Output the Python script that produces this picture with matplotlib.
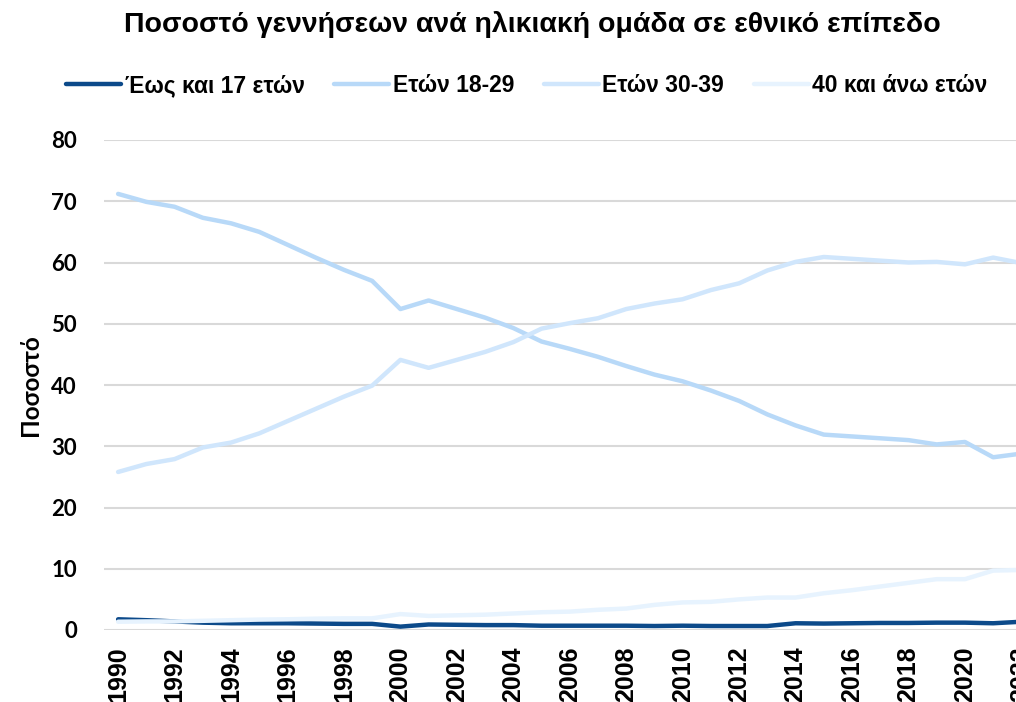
import matplotlib
matplotlib.use("Agg")
import matplotlib.pyplot as plt
from matplotlib import font_manager

years = list(range(1990, 2023))
under17 = [1.75, 1.6, 1.4, 1.2, 1.1, 1.1, 1.1, 1.05, 1.0, 1.0, 0.55, 0.9, 0.85, 0.8, 0.8,
           0.7, 0.7, 0.7, 0.7, 0.65, 0.7, 0.65, 0.65, 0.65, 1.1, 1.05, 1.1, 1.15, 1.15,
           1.2, 1.2, 1.1, 1.35]
age18_29 = [71.2, 69.9, 69.1, 67.3, 66.4, 65.0, 62.9, 60.8, 58.8, 57.0, 52.4, 53.8, 52.4,
            51.0, 49.3, 47.1, 45.9, 44.6, 43.1, 41.7, 40.6, 39.1, 37.4, 35.2, 33.4, 31.9,
            31.6, 31.3, 31.0, 30.3, 30.7, 28.2, 28.8]
age30_39 = [25.8, 27.1, 27.9, 29.8, 30.6, 32.1, 34.1, 36.1, 38.1, 39.9, 44.1, 42.8, 44.1,
            45.4, 47.0, 49.2, 50.1, 50.9, 52.4, 53.3, 54.0, 55.5, 56.6, 58.7, 60.1, 60.9,
            60.6, 60.3, 60.0, 60.1, 59.7, 60.8, 59.9]
age40plus = [1.35, 1.4, 1.4, 1.5, 1.6, 1.7, 1.75, 1.85, 1.9, 1.9, 2.6, 2.3, 2.4, 2.5, 2.7,
             2.9, 3.0, 3.3, 3.5, 4.1, 4.5, 4.6, 5.0, 5.3, 5.3, 6.0, 6.5, 7.1, 7.7, 8.3,
             8.3, 9.7, 9.8]

series_labels = ["Έως και 17 ετών", "Ετών 18-29", "Ετών 30-39", "40 και άνω ετών"]
title = "Ποσοστό γεννήσεων ανά ηλικιακή ομάδα σε εθνικό επίπεδο"
ylabel = "Ποσοστό"
yticks = [0, 10, 20, 30, 40, 50, 60, 70, 80]
xticks = list(range(1990, 2023, 2))

colors = ["#0C4A8A", "#B8D9F8", "#D0E6FC", "#E7F3FE"]

avail = {f.name for f in font_manager.fontManager.ttflist}
narrow = "Liberation Sans Narrow" if "Liberation Sans Narrow" in avail else "Liberation Sans"

W, H = 1016, 702
fig = plt.figure(figsize=(W / 100, H / 100), dpi=100)
left, right, bottom, top = 104, 1035.5, 630, 140
ax = fig.add_axes([left / W, 1 - bottom / H, (right - left) / W, (bottom - top) / H])

for vals, c, lab in zip([under17, age18_29, age30_39, age40plus], colors, series_labels):
    ax.plot(years, vals, color=c, lw=3.2, label=lab, solid_capstyle="round", zorder=3)

ax.set_xlim(1989.5, 2022.5)
ax.set_ylim(0, 80)
ax.set_yticks(yticks)
ax.set_xticks(xticks)
ax.set_xticklabels([str(x) for x in xticks], rotation=90, fontfamily="Liberation Sans",
                   fontweight="bold", fontsize=18, va="top")
ax.set_yticklabels([str(y) for y in yticks], fontfamily="Lato", fontweight="bold", fontsize=16)
ax.tick_params(axis="both", length=0)
ax.tick_params(axis="y", pad=19.5)
ax.tick_params(axis="x", pad=12)
for s in ax.spines.values():
    s.set_visible(False)
ax.grid(axis="y", color="#D9D9D9", lw=1.5, zorder=0)
ax.set_axisbelow(True)

fig.text(30 / W, 1 - 385 / H, ylabel, rotation=90, ha="center", va="center",
         fontfamily="Lato", fontweight="bold", fontsize=17.5)
fig.text(532 / W, 1 - 25 / H, title, ha="center", va="center",
         fontfamily=narrow, fontweight="bold", fontsize=20.5)

leg = fig.legend(loc="center", bbox_to_anchor=(527 / W, 1 - 86 / H), ncol=4, frameon=False,
                 prop={"family": narrow, "weight": "bold", "size": 16.5},
                 handlelength=2.4, handletextpad=0.15, columnspacing=1.3,
                 borderpad=0, borderaxespad=0)
for line in leg.get_lines():
    line.set_linewidth(3.2)

fig.savefig("out.png", dpi=100)
